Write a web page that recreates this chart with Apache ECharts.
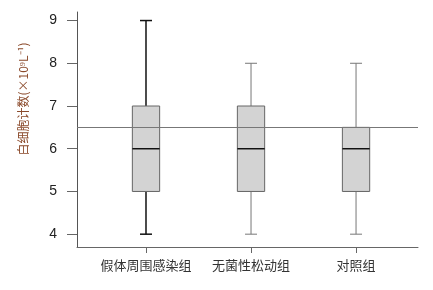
<!DOCTYPE html>
<html>
<head>
<meta charset="utf-8">
<script src="https://cdn.jsdelivr.net/npm/echarts@6/dist/echarts.min.js"></script>
<style>
  html, body { margin: 0; padding: 0; background: #fff; }
  #chart { width: 433px; height: 290px; }
</style>
</head>
<body>
<div id="chart"></div>
<script>
const groups = ["假体周围感染组", "无菌性松动组", "对照组"];
const mins = [4, 4, 4];
const q1s = [5, 5, 5];
const medians = [6, 6, 6];
const q3s = [7, 7, 6.5];
const maxs = [9, 8, 8];
const refLine = 6.5;
const yTicks = [4, 5, 6, 7, 8, 9];
const xPos = [1, 2, 3];

const boxData = groups.map((g, i) => [xPos[i], mins[i], q1s[i], medians[i], q3s[i], maxs[i]]);

const chart = echarts.init(document.getElementById("chart"));

function renderBox(params, api) {
  const x = api.value(0);
  const lo = api.coord([x, api.value(1)]);
  const b1 = api.coord([x - 0.13, api.value(2)]);
  const b2 = api.coord([x + 0.13, api.value(4)]);
  const med = api.value(3);
  const m1 = api.coord([x - 0.13, med]);
  const m2 = api.coord([x + 0.13, med]);
  const hi = api.coord([x, api.value(5)]);
  const c1 = api.coord([x - 0.057, 0])[0];
  const c2 = api.coord([x + 0.057, 0])[0];
  const q1y = api.coord([x, api.value(2)])[1];
  const q3y = api.coord([x, api.value(4)])[1];
  // first group has dark whiskers
  const wColor = params.dataIndex === 0 ? "#111" : "#777";
  const wWidth = params.dataIndex === 0 ? 1.5 : 1;
  const ws = { stroke: wColor, lineWidth: wWidth };
  return {
    type: "group",
    children: [
      { type: "line", shape: { x1: lo[0], y1: lo[1], x2: lo[0], y2: q1y }, style: ws },
      { type: "line", shape: { x1: hi[0], y1: q3y, x2: hi[0], y2: hi[1] }, style: ws },
      { type: "line", shape: { x1: c1, y1: lo[1], x2: c2, y2: lo[1] }, style: ws },
      { type: "line", shape: { x1: c1, y1: hi[1], x2: c2, y2: hi[1] }, style: ws },
      {
        type: "rect",
        shape: { x: b1[0], y: b2[1], width: b2[0] - b1[0], height: b1[1] - b2[1] },
        style: { fill: "#d3d3d3", stroke: "#666", lineWidth: 1 }
      },
      { type: "line", shape: { x1: m1[0], y1: m1[1], x2: m2[0], y2: m2[1] }, style: { stroke: "#111", lineWidth: 1.5 } }
    ]
  };
}

chart.setOption({
  animation: false,
  grid: { left: 77, right: 15, top: 12, bottom: 43 },
  xAxis: {
    type: "value",
    min: 0.343,
    max: 3.59,
    splitLine: { show: false },
    axisLine: { lineStyle: { color: "#666" } },
    axisTick: { customValues: xPos, length: 6, lineStyle: { color: "#666" } },
    axisLabel: {
      customValues: xPos,
      formatter: (v) => groups[xPos.indexOf(v)] || "",
      margin: 12,
      fontSize: 13,
      color: "#333",
      fontFamily: "Noto Sans CJK SC"
    }
  },
  yAxis: {
    type: "value",
    min: 3.7,
    max: 9.2,
    splitLine: { show: false },
    axisLine: { show: true, lineStyle: { color: "#555" } },
    axisTick: { show: true, customValues: yTicks, length: 10, lineStyle: { color: "#666" } },
    axisLabel: {
      customValues: yTicks,
      margin: 20,
      fontSize: 14,
      color: "#222",
      fontFamily: "Liberation Sans"
    }
  },
  graphic: [
    {
      type: "text",
      x: 23,
      y: 99,
      rotation: Math.PI / 2,
      style: {
        text: "白细胞计数(×10⁹L⁻¹)",
        fill: "#8b4a2b",
        fontSize: 12,
        fontFamily: "Noto Sans CJK SC",
        textAlign: "center",
        textVerticalAlign: "middle"
      }
    }
  ],
  series: [
    {
      type: "custom",
      renderItem: renderBox,
      data: boxData,
      encode: { x: 0, y: [1, 2, 3, 4, 5] },
      markLine: {
        silent: true,
        symbol: "none",
        label: { show: false },
        lineStyle: { color: "#777", width: 1, type: "solid" },
        data: [{ yAxis: refLine }]
      }
    }
  ]
});
</script>
</body>
</html>
